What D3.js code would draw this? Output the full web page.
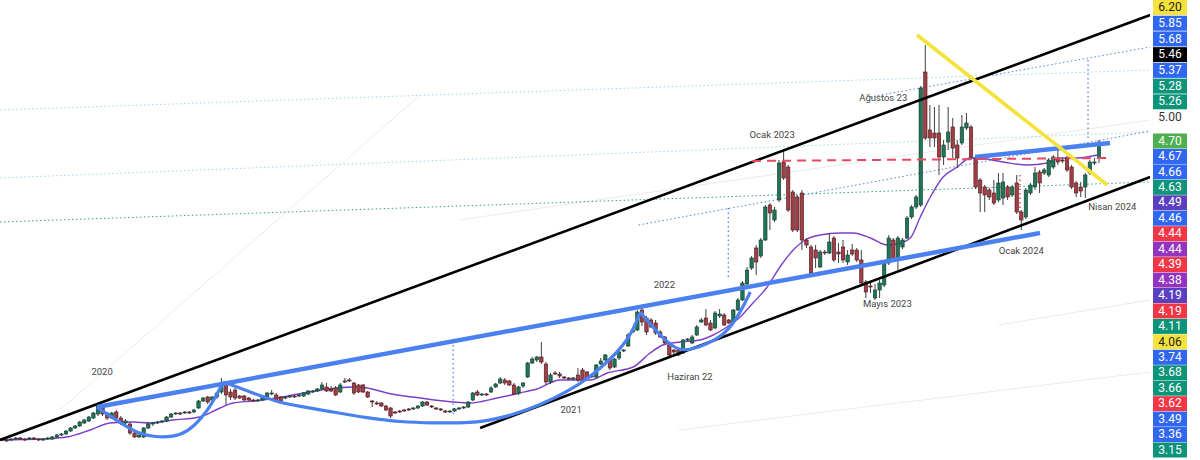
<!DOCTYPE html>
<html><head><meta charset="utf-8">
<script src="https://cdn.jsdelivr.net/npm/d3@7"></script>
<style>body{margin:0;background:#fff}svg{display:block}</style>
</head><body>
<svg id="chart" width="1200" height="460"></svg>
<script>
// ---- weekly candles (index 0..240) ----
const opens=[1.80,1.80,1.80,1.81,1.82,1.81,1.81,1.82,1.81,1.80,
1.81,1.81,1.83,1.85,1.86,1.89,1.92,1.94,1.97,1.99,
2.02,2.06,2.12,2.07,2.02,2.08,2.02,1.97,1.96,1.87,
1.83,1.83,1.92,1.96,1.97,1.98,1.99,2.03,2.06,2.07,
2.07,2.08,2.08,2.12,2.19,2.23,2.20,2.23,2.28,2.36,
2.28,2.30,2.24,2.24,2.22,2.20,2.19,2.20,2.23,2.26,
2.25,2.23,2.22,2.23,2.24,2.24,2.24,2.26,2.28,2.29,
2.31,2.33,2.31,2.32,2.28,2.39,2.40,2.37,2.35,2.35,
2.28,2.19,2.17,2.17,2.14,2.12,2.08,2.09,2.10,2.11,
2.11,2.12,2.14,2.18,2.14,2.12,2.11,2.09,2.08,2.09,
2.11,2.12,2.13,2.20,2.28,2.25,2.26,2.28,2.33,2.37,
2.40,2.39,2.35,2.27,2.34,2.43,2.57,2.60,2.63,2.56,
2.38,2.47,2.46,2.43,2.42,2.41,2.45,2.50,2.48,2.43,
2.43,2.56,2.60,2.60,2.53,2.62,2.69,2.74,2.88,2.90,
3.10,3.02,3.00,2.97,2.88,2.83,2.75,2.70,2.70,2.67,
2.80,2.77,2.85,2.98,3.02,2.97,2.92,3.04,3.05,3.00,
2.98,3.10,3.20,3.36,3.52,3.72,3.64,3.80,4.15,4.00,
4.20,4.58,4.53,4.28,4.23,4.27,3.80,3.73,3.70,3.53,
3.68,3.67,3.82,3.68,3.73,3.58,3.70,3.70,3.60,3.38,
3.34,3.22,3.30,3.35,3.57,3.80,3.60,3.73,3.82,4.03,
4.13,4.15,5.48,4.90,4.87,4.87,4.63,4.78,4.93,4.75,
4.77,4.92,4.93,4.62,4.40,4.33,4.30,4.27,4.20,4.22,
4.33,4.25,4.37,4.08,4.03,4.27,4.33,4.48,4.47,4.45,
4.53,4.62,4.60,4.62,4.53,4.37,4.33,4.33,4.47,4.57,
4.62];
const closes=[1.81,1.79,1.81,1.82,1.81,1.80,1.82,1.81,1.80,1.81,
1.82,1.83,1.85,1.86,1.89,1.92,1.94,1.98,2.00,2.03,
2.07,2.15,2.06,2.02,2.07,2.02,1.97,1.99,1.87,1.83,
1.85,1.92,1.96,1.97,1.98,1.99,2.03,2.06,2.07,2.06,
2.08,2.07,2.10,2.19,2.22,2.18,2.23,2.27,2.37,2.25,
2.23,2.22,2.22,2.20,2.20,2.19,2.20,2.24,2.27,2.27,
2.20,2.19,2.23,2.24,2.23,2.25,2.27,2.29,2.29,2.31,
2.35,2.29,2.29,2.25,2.35,2.38,2.39,2.27,2.28,2.28,
2.23,2.18,2.16,2.14,2.10,2.04,2.07,2.08,2.09,2.10,
2.12,2.14,2.18,2.15,2.13,2.11,2.10,2.08,2.09,2.11,
2.12,2.13,2.18,2.27,2.25,2.26,2.25,2.32,2.36,2.41,
2.37,2.35,2.26,2.33,2.37,2.57,2.61,2.63,2.58,2.38,
2.45,2.46,2.44,2.42,2.41,2.42,2.40,2.40,2.42,2.44,
2.55,2.59,2.65,2.52,2.61,2.68,2.70,2.85,2.90,3.08,
2.98,2.88,2.93,2.87,2.83,2.77,2.65,2.68,2.65,2.80,
2.81,2.83,2.93,3.00,2.95,2.90,3.07,3.06,2.95,2.97,
3.10,3.20,3.37,3.50,3.62,3.58,3.80,4.13,4.07,4.10,
4.57,4.42,4.10,3.90,3.90,3.80,3.75,3.47,3.62,3.68,
3.67,3.78,3.60,3.66,3.60,3.65,3.66,3.60,3.37,3.28,
3.33,3.30,3.37,3.57,3.82,3.60,3.82,3.80,4.02,4.13,
4.23,5.32,4.82,4.82,4.82,4.63,4.75,4.88,4.72,4.62,
4.93,4.97,4.63,4.33,4.27,4.25,4.23,4.17,4.37,4.38,
4.23,4.33,4.08,4.00,4.30,4.35,4.47,4.37,4.50,4.60,
4.63,4.58,4.59,4.50,4.33,4.27,4.29,4.45,4.58,4.58,
4.78];
const highs=[1.82,1.81,1.82,1.83,1.83,1.82,1.83,1.83,1.82,1.82,
1.83,1.84,1.86,1.87,1.90,1.93,1.95,1.99,2.01,2.04,
2.08,2.16,2.14,2.08,2.08,2.10,2.04,2.01,1.98,1.88,
1.86,1.93,1.98,1.98,1.99,2.00,2.04,2.07,2.08,2.08,
2.09,2.09,2.11,2.20,2.23,2.24,2.24,2.28,2.42,2.39,
2.31,2.32,2.25,2.25,2.23,2.21,2.21,2.25,2.28,2.30,
2.27,2.24,2.24,2.25,2.25,2.26,2.28,2.30,2.30,2.32,
2.38,2.37,2.34,2.34,2.37,2.42,2.42,2.38,2.36,2.36,
2.29,2.20,2.19,2.18,2.15,2.13,2.09,2.10,2.11,2.12,
2.13,2.15,2.19,2.19,2.15,2.13,2.12,2.10,2.10,2.12,
2.13,2.14,2.19,2.28,2.30,2.27,2.27,2.34,2.37,2.43,
2.42,2.40,2.37,2.34,2.38,2.58,2.63,2.64,2.78,2.58,
2.47,2.49,2.48,2.44,2.43,2.43,2.52,2.52,2.49,2.46,
2.56,2.62,2.66,2.62,2.62,2.69,2.71,2.87,2.91,3.10,
3.12,3.04,3.02,3.00,2.90,2.84,2.76,2.71,2.71,2.81,
2.82,2.85,2.95,3.02,3.11,3.00,3.09,3.11,3.07,3.01,
3.11,3.22,3.39,3.53,3.64,3.75,3.82,4.15,4.17,4.13,
4.60,4.70,4.55,4.30,4.25,4.30,3.82,3.75,3.75,3.70,
3.70,3.87,3.84,3.77,3.80,3.70,3.76,3.72,3.70,3.40,
3.38,3.36,3.40,3.60,3.85,3.82,3.84,3.82,4.04,4.15,
4.25,5.34,5.75,5.15,5.13,5.15,4.80,5.13,5.02,4.80,
5.05,5.07,4.95,4.64,4.42,4.35,4.32,4.40,4.47,4.47,
4.35,4.35,4.45,4.10,4.32,4.37,4.53,4.50,4.52,4.62,
4.65,4.73,4.62,4.64,4.55,4.39,4.38,4.47,4.60,4.62,
4.80];
const lows=[1.79,1.78,1.79,1.80,1.80,1.79,1.80,1.80,1.79,1.79,
1.80,1.80,1.82,1.84,1.85,1.88,1.91,1.93,1.96,1.98,
2.01,2.04,2.04,2.00,2.01,2.00,1.95,1.94,1.85,1.82,
1.82,1.82,1.91,1.94,1.96,1.97,1.98,2.02,2.05,2.05,
2.06,2.06,2.07,2.11,2.18,2.16,2.19,2.21,2.26,2.15,
2.20,2.20,2.21,2.19,2.19,2.18,2.18,2.19,2.22,2.25,
2.18,2.18,2.21,2.22,2.22,2.23,2.23,2.25,2.27,2.28,
2.30,2.28,2.28,2.24,2.27,2.37,2.38,2.25,2.27,2.27,
2.22,2.13,2.15,2.13,2.09,2.02,2.06,2.07,2.08,2.09,
2.10,2.11,2.13,2.14,2.12,2.10,2.09,2.07,2.07,2.08,
2.10,2.11,2.12,2.19,2.24,2.24,2.24,2.27,2.32,2.36,
2.35,2.34,2.25,2.25,2.32,2.42,2.56,2.58,2.56,2.35,
2.36,2.45,2.42,2.41,2.40,2.40,2.38,2.39,2.40,2.42,
2.42,2.55,2.58,2.50,2.52,2.60,2.68,2.73,2.87,2.89,
2.94,2.85,2.92,2.85,2.82,2.76,2.64,2.66,2.64,2.66,
2.79,2.76,2.84,2.97,2.94,2.89,2.91,3.02,2.94,2.96,
2.97,3.09,3.19,3.34,3.50,3.45,3.62,3.79,3.90,3.98,
4.18,4.40,4.08,3.88,3.88,3.70,3.72,3.46,3.52,3.52,
3.65,3.66,3.58,3.57,3.57,3.55,3.64,3.58,3.35,3.22,
3.27,3.20,3.22,3.33,3.55,3.58,3.50,3.71,3.81,4.01,
4.11,4.13,4.80,4.73,4.73,4.45,4.55,4.70,4.62,4.52,
4.75,4.90,4.60,4.31,4.08,4.08,4.20,4.15,4.18,4.15,
4.20,4.23,4.06,3.90,4.01,4.25,4.30,4.27,4.45,4.43,
4.51,4.55,4.57,4.48,4.31,4.23,4.23,4.22,4.45,4.55,
4.57];

// ---- moving average (bar index, price) ----
const maIdx=[-0.4,9,14.2,19.3,23.6,28.7,32.4,37.4,43.3,47.7,50.5,54.9,60.2,65.9,73.3,76.8,79.9,84.2,91.5,98.7,102.4,108.3,113.3,117,122.1,128.7,132.4,138.1,141.8,144.6,148.4,152.7,155.6,158.6,161.5,164.3,167.4,170.2,173.1,176.1,179,183.4,186.2,190,193.7,195.8,198.7,200.9,203.1,205.9,209,211.8,213.3,219,224.3,228.7,231.5,235.2,239.6];
const maVal=[1.80,1.81,1.83,1.90,1.97,1.98,1.97,2.00,2.03,2.12,2.17,2.19,2.22,2.27,2.32,2.33,2.32,2.27,2.22,2.18,2.17,2.22,2.27,2.31,2.40,2.40,2.47,2.53,2.67,2.75,2.78,2.80,2.85,2.93,3.03,3.17,3.33,3.53,3.70,3.81,3.85,3.87,3.87,3.82,3.75,3.76,3.82,4.03,4.23,4.43,4.53,4.62,4.62,4.58,4.55,4.57,4.62,4.62,4.65];

// ---- drawings (bar index, price) ----
const channelUpper=[[-0.44,1.80],[251.2,6.05]];
const channelLower=[[104.6,1.92],[251.2,4.43]];
const blueSupport=[[20.8,2.13],[227.1,3.87]];
const blueTop=[[212.9,4.63],[242.4,4.77]];
const yellowLine=[[200.2,5.85],[241.8,4.35]];
const redDashed=[[164.1,4.59],[242,4.62]];
const cup1=[[20.8,2.13],[23.6,2.04],[27.4,1.93],[30.2,1.86],[33.5,1.83],[37.4,1.83],[40.5,1.88],[43.3,2.00],[45.5,2.13],[47.3,2.28],[48.4,2.38]];
const cup2=[[48.4,2.38],[54.9,2.27],[60.2,2.18],[64.8,2.14],[72.4,2.08],[79.9,2.02],[87.1,1.98],[94.3,1.97],[101.8,1.97],[106.1,1.99],[111.8,2.05],[117.7,2.15],[123.6,2.28],[128.7,2.43],[133.7,2.63],[137.4,2.83],[139.6,3.07]];
const cup3=[[139.6,3.08],[142.9,2.90],[145.5,2.78],[148.4,2.68],[152.7,2.73],[156.0,2.80],[158.6,2.88],[161.5,3.07],[163.7,3.28]];
const blueDotted=[[[139.3,3.95],[251.2,4.89]],[[189.9,5.23],[251.2,5.73]]];
const tealDotted=[[[-0.44,3.98],[251.2,4.38]]];
const cyanDotted=[[[-0.44,4.42],[251.2,4.88]],[[-0.44,5.10],[251.2,5.50]]];
const faintLines=[[[12.7,2.10],[91.5,5.25]],[[148,1.90],[251.2,2.48]],[[218,2.95],[251.2,3.20]],[[100,4.00],[251.2,5.00]]];
const vBlueDotted=[[98.7,2.75,2.03],[158.9,4.12,3.40],[237.6,5.60,4.80]];
const vRedDotted=[[222.7,4.45,4.00]];
const notes=[
 {t:"2020",i:21.9,p:2.48},{t:"2021",i:124.5,p:2.10},{t:"2022",i:144.9,p:3.35},
 {t:"Haziran 22",i:150.5,p:2.43},{t:"Mayıs 2023",i:193.7,p:3.16},{t:"Ocak 2023",i:168.5,p:4.85},
 {t:"Ağustos 23",i:192.8,p:5.22},{t:"Ocak 2024",i:223,p:3.69},{t:"Nisan 2024",i:242.9,p:4.13}];

// ---- price scale labels ----
const axisTick=[5.00];
const labelsTop=["6.20","5.85","5.68","5.46","5.37","5.28","5.26"];
const labelsTopKind=["yellow","blue","blue","black","blue","teal","teal"];
const labelsBottom=["4.70","4.67","4.66","4.63","4.49","4.46","4.44","4.44","4.39","4.38","4.19","4.19","4.11","4.06","3.74","3.68","3.66","3.62","3.49","3.36","3.15"];
const labelsBottomKind=["green","blue","blue","teal","indigo","blue","red","purple","red","purple","indigo","red","teal","yellow","blue","teal","teal","red","blue","blue","teal"];

const kindColor={yellow:"#f5e23c",blue:"#2f66f2",black:"#000000",teal:"#0b9479",green:"#4caf50",indigo:"#5b3fc0",red:"#f23645",purple:"#9333c0"};

const W=1200,H=460,plotR=1150;
const svg=d3.select("#chart");
const x=d3.scaleLinear().domain([0,240]).range([2,1099]);
const y=d3.scaleLinear().domain([1.8,6.2]).range([440,0]);

svg.append("defs").append("clipPath").attr("id","plot").append("rect").attr("x",0).attr("y",0).attr("width",plotR).attr("height",H);
const g=svg.append("g").attr("clip-path","url(#plot)");
const ln=d3.line().x(d=>x(d[0])).y(d=>y(d[1]));

function seg(data,color,w,dash,op){
  g.selectAll(null).data(data).enter().append("path").attr("d",d=>ln(d))
   .attr("fill","none").attr("stroke",color).attr("stroke-width",w)
   .attr("stroke-dasharray",dash||null).attr("opacity",op==null?1:op);
}
// faint and dotted guides
seg(faintLines,"#ebebee",1,null,1);
seg(cyanDotted,"#a9d6e8",1,"1.5,2.5");
seg(tealDotted,"#2aa58b",1,"1.5,2.5");
seg(blueDotted,"#5b7fe0",1,"1.5,2.5");
g.selectAll(null).data(vBlueDotted).enter().append("line")
 .attr("x1",d=>x(d[0])).attr("x2",d=>x(d[0])).attr("y1",d=>y(d[1])).attr("y2",d=>y(d[2]))
 .attr("stroke","#5b7fe0").attr("stroke-width",1.3).attr("stroke-dasharray","1.5,3");
g.selectAll(null).data(vRedDotted).enter().append("line")
 .attr("x1",d=>x(d[0])).attr("x2",d=>x(d[0])).attr("y1",d=>y(d[1])).attr("y2",d=>y(d[2]))
 .attr("stroke","#e84860").attr("stroke-width",1.5).attr("stroke-dasharray","1.5,3");

// moving average
g.append("path").datum(maIdx.map((v,k)=>[v,maVal[k]]))
 .attr("d",d3.line().x(d=>x(d[0])).y(d=>y(d[1])).curve(d3.curveMonotoneX))
 .attr("fill","none").attr("stroke","#7c3fc6").attr("stroke-width",1.4);

// candles
const idx=d3.range(opens.length);
const cg=g.append("g");
cg.selectAll("line").data(idx).enter().append("line")
 .attr("x1",i=>x(i)).attr("x2",i=>x(i)).attr("y1",i=>y(highs[i])).attr("y2",i=>y(lows[i]))
 .attr("stroke","#3f3f3f").attr("stroke-width",1);
cg.selectAll("rect").data(idx).enter().append("rect")
 .attr("x",i=>x(i)-1.7).attr("width",3.4)
 .attr("y",i=>y(Math.max(opens[i],closes[i])))
 .attr("height",i=>Math.max(1,Math.abs(y(opens[i])-y(closes[i]))))
 .attr("fill",i=>closes[i]>=opens[i]?"#1f7556":"#a23e46")
 .attr("stroke",i=>closes[i]>=opens[i]?"#153a2e":"#46181c").attr("stroke-width",0.6);

// thick drawings
seg([channelUpper,channelLower],"#000000",2.6);
const cv=d3.line().x(d=>x(d[0])).y(d=>y(d[1])).curve(d3.curveBasis);
g.selectAll(null).data([cup1,cup2,cup3]).enter().append("path").attr("d",d=>cv(d))
 .attr("fill","none").attr("stroke","#4a80f0").attr("stroke-width",3.2);
seg([blueSupport,blueTop],"#4a80f0",4.5);
seg([redDashed],"#e84860",2,"9,6");
seg([yellowLine],"#f5e23c",3.6);

// notes
g.selectAll(null).data(notes).enter().append("text")
 .attr("x",d=>x(d.i)).attr("y",d=>y(d.p)).attr("text-anchor","middle").attr("dominant-baseline","middle")
 .attr("font-family","Roboto, 'DejaVu Sans', sans-serif").attr("font-size",9.5).attr("fill","#444").text(d=>d.t);

// price scale
const ax=svg.append("g");
const boxX=1153, boxW=34, boxH=15;
function stack(vals,kinds,start,step){
  const gg=ax.selectAll(null).data(vals).enter().append("g").attr("transform",(d,k)=>`translate(0,${start+k*step})`);
  gg.append("rect").attr("x",boxX).attr("y",-boxH/2).attr("width",boxW).attr("height",boxH)
    .attr("fill",(d,k)=>kindColor[kinds[k]]);
  gg.append("text").attr("x",boxX+boxW/2).attr("y",0.5).attr("text-anchor","middle").attr("dominant-baseline","middle")
    .attr("font-family","Roboto, 'DejaVu Sans', sans-serif").attr("font-size",12)
    .attr("fill",(d,k)=>kinds[k]==="yellow"?"#222":"#fff").text(d=>d);
}
stack(labelsTop,labelsTopKind,7.5,15.72);
const tickY=y(axisTick[0])-2;
ax.selectAll(null).data(axisTick).enter().append("text").attr("x",boxX+boxW/2).attr("y",tickY)
 .attr("text-anchor","middle").attr("dominant-baseline","middle")
 .attr("font-family","Roboto, 'DejaVu Sans', sans-serif").attr("font-size",12).attr("fill","#333")
 .text(d=>d3.format(".2f")(d));
stack(labelsBottom,labelsBottomKind,tickY+23,15.45);
</script>
</body></html>
